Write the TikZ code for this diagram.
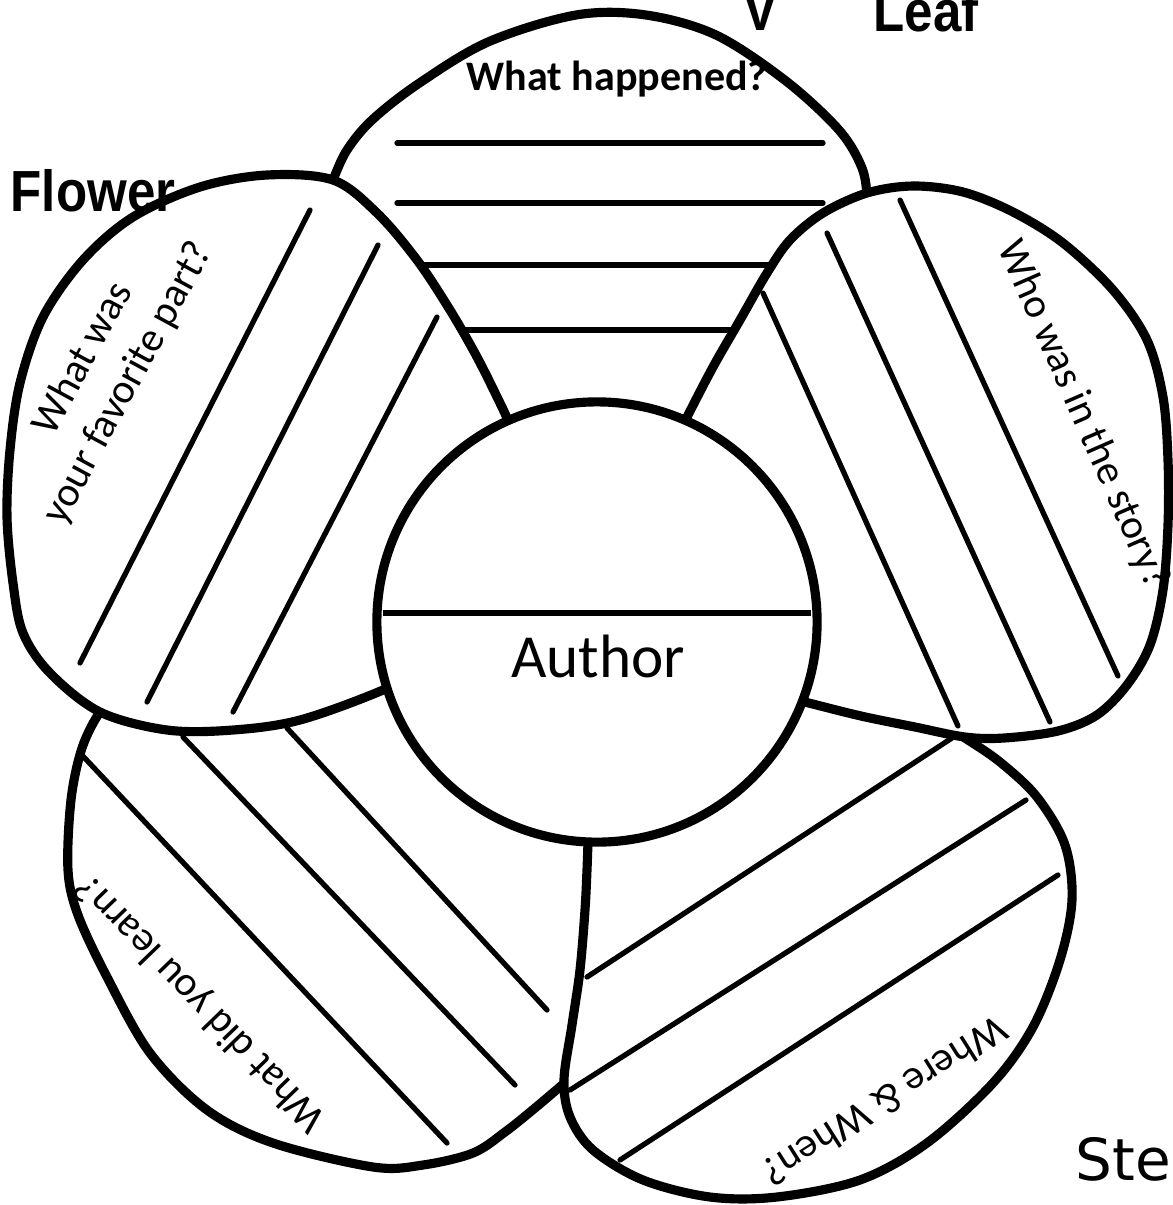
\documentclass[tikz,border=0pt]{standalone}
\usepackage{fontspec}
\setmainfont{Carlito}
\newfontfamily\lblfont[FakeStretch=0.88]{Liberation Sans}
\newfontfamily\stemfont{DejaVu Sans}
\begin{document}
\begin{tikzpicture}[x=0.01cm,y=-0.01cm,
  pet/.style={line width=2.6pt, line join=round, line cap=round, fill=white},
  stripe/.style={line width=1.5pt, line cap=round},
  ptext/.style={inner sep=0pt, font=\fontsize{11.8pt}{14.5pt}\selectfont},
  lbl/.style={inner sep=0pt, anchor=base west, font=\lblfont\fontsize{16.5pt}{18pt}\selectfont\bfseries}
]
\useasboundingbox (0,0) rectangle (1173,1205);
\clip (0,0) rectangle (1173,1205);

% ---- top petal
\draw[pet] plot[smooth, tension=0.55] coordinates {(326,200) (333,180) (347,150) (372,120) (418,84) (488,42) (576,15) (646,15) (716,35) (786,81) (839,130) (862,168) (867,200) (864,225)} -- (790,320) -- (690,460) -- (510,460) -- (420,320) -- cycle;
\draw[stripe] (397,143) -- (823,143);
\draw[stripe] (397,203) -- (823,203);
\draw[stripe] (405,265) -- (790,265);
\draw[stripe] (450,330) -- (750,330);
\node[ptext, font=\fontsize{11.95pt}{14pt}\selectfont\bfseries, anchor=base] (happened) at (617,90) {What happened?};

% ---- bottom-left petal
\draw[pet] plot[smooth, tension=0.55] coordinates {(115,703) (100,712) (82,748) (71,800) (68,870) (78,915) (107,977) (150,1053) (207,1110) (273,1143) (373,1167) (423,1165) (473,1153) (505,1132) (535,1108) (568,1080)} -- (600,900) -- (600,800) -- (420,680) -- (250,700) -- cycle;
\draw[stripe] (80,753) -- (447,1143);
\draw[stripe] (183,737) -- (515,1085);
\draw[stripe] (287,728) -- (547,1010);
\node[ptext, rotate=134] (learn) at (201,1003) {What did you learn?};

% ---- bottom-right petal
\draw[pet] plot[smooth, tension=0.55] coordinates {(589,825) (588,843) (587,870) (585,910) (580,970) (572,1025) (564,1080) (570,1117) (593,1150) (643,1180) (710,1197) (777,1197) (860,1180) (927,1143) (993,1083) (1033,1027) (1060,960) (1072,900) (1065,845) (1037,797) (1000,762) (965,738) (940,722)} -- (850,700) -- (780,688) -- (650,790) -- cycle;
\draw[stripe] (587,977) -- (955,736);
\draw[stripe] (570,1090) -- (1026,800);
\draw[stripe] (620,1160) -- (1058,875);
\node[ptext, rotate=212.3] (where) at (885,1102) {Where \& When?};

% ---- left petal
\draw[pet] plot[smooth, tension=0.55] coordinates {(522,455) (510,425) (500,403) (477,357) (450,310) (417,260) (377,213) (333,180) (267,175) (200,187) (133,217) (83,260) (43,317) (20,383) (10,450) (7,517) (13,583) (23,633) (50,673) (100,712) (167,730) (233,730) (300,720) (383,690) (420,668)} -- (480,560) -- cycle;
\draw[stripe] (310,210) -- (80,663);
\draw[stripe] (378,245) -- (147,702);
\draw[stripe] (437,317) -- (233,712);
\node[ptext, rotate=61.5, align=center] (favorite) at (106,371) {What was\\your favorite part?};

% ---- right petal
\draw[pet] plot[smooth, tension=0.55] coordinates {(677,437) (687,417) (713,367) (740,320) (767,273) (790,240) (823,213) (867,193) (913,186) (963,192) (1013,212) (1063,243) (1113,290) (1147,340) (1163,397) (1168,460) (1168,525) (1163,590) (1150,645) (1127,685) (1097,715) (1058,731) (1004,738) (965,737) (915,727) (861,716) (801,701) (785,697)} -- (740,560) -- cycle;
\draw[stripe] (763,293) -- (958,726);
\draw[stripe] (827,233) -- (1050,722);
\draw[stripe] (900,200) -- (1118,676);
\node[ptext, rotate=-66.4] (who) at (1083,415) {Who was in the story?};

% ---- centre circle
\node[circle, draw, line width=2.6pt, fill=white, inner sep=0pt, minimum size=4.4cm] (centre) at (597,622) {};
\draw[line width=1.6pt] (383,613) -- (811,613);
\node[inner sep=0pt, anchor=base, font=\fontsize{17.4pt}{20pt}\selectfont] (author) at (598,677) {Author};

% ---- labels
\node[lbl] (flower) at (10,211) {Flower};
\node[lbl] (vmark) at (743,30) {V};
\node[lbl] (leaf) at (873,31) {Leaf};
\node[lbl, font=\stemfont\fontsize{16.5pt}{19pt}\selectfont] (stem) at (1075,1180) {Stem};
\end{tikzpicture}
\end{document}
